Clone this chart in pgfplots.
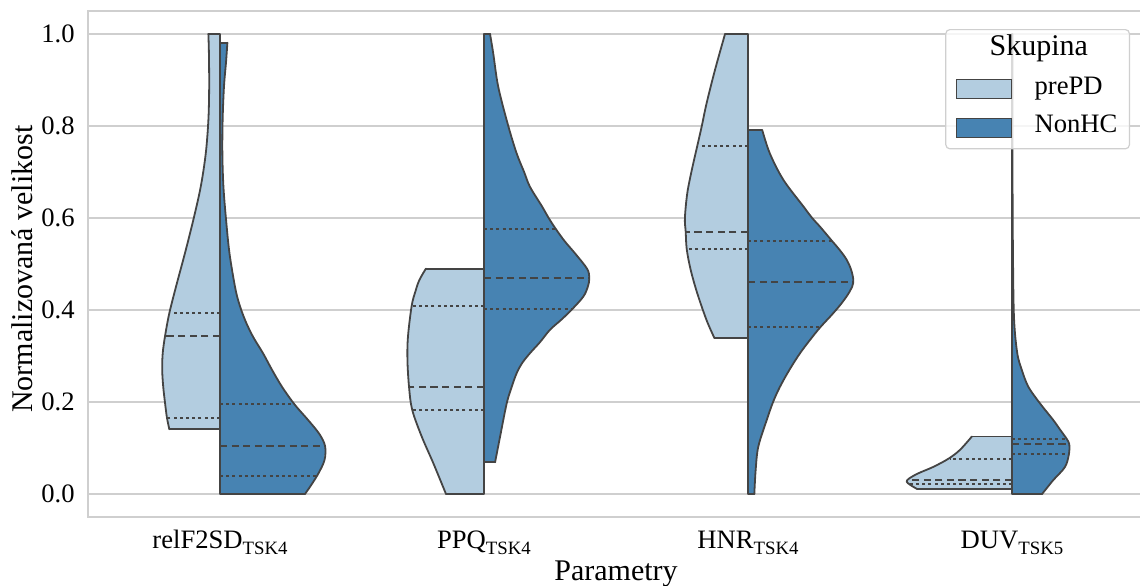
\documentclass[border=0pt]{standalone}
\usepackage{pgfplots}
\usepackage{pgfplotstable}
\pgfplotsset{compat=1.18}
\usepackage{fontspec}
\setmainfont{Liberation Serif}
\definecolor{lightb}{HTML}{B3CDE0}
\definecolor{darkb}{HTML}{4783B2}
\definecolor{edgec}{HTML}{444444}
\definecolor{gridc}{HTML}{CFCFCF}
\newcommand{\sub}[1]{\raisebox{-0.25em}{\fontsize{9.4}{10}\selectfont #1}}
\newcommand{\tickfont}{\fontsize{13.3}{16}\selectfont}
\newcommand{\labfont}{\fontsize{15}{18}\selectfont}

% Half violins: rows = bottom corner, bottom centre, top centre, top corner,
% then the outer edge from top to bottom (y value, half width w in x units).
\pgfplotstableread{
y w
0.141 0.192
0.141 0
1.000 0
1.000 0.044
0.958 0.042
0.885 0.041
0.813 0.044
0.740 0.054
0.668 0.073
0.596 0.101
0.523 0.133
0.450 0.167
0.393 0.192
0.344 0.208
0.306 0.217
0.270 0.219
0.233 0.215
0.197 0.208
0.166 0.201
0.141 0.192
}\relFpre
\pgfplotstableread{
y w
0.000 0.322
0.000 0
0.981 0
0.981 0.028
0.940 0.023
0.885 0.015
0.813 0.010
0.740 0.009
0.668 0.013
0.596 0.023
0.523 0.036
0.450 0.057
0.415 0.072
0.378 0.095
0.342 0.125
0.306 0.163
0.270 0.197
0.233 0.235
0.195 0.282
0.160 0.335
0.130 0.377
0.104 0.398
0.074 0.396
0.045 0.373
0.020 0.346
0.000 0.322
}\relFnon
\pgfplotstableread{
y w
0.000 0.144
0.000 0
0.490 0
0.490 0.220
0.465 0.245
0.440 0.260
0.409 0.274
0.342 0.288
0.291 0.290
0.233 0.284
0.183 0.272
0.125 0.236
0.067 0.192
0.000 0.144
}\PPQpre
\pgfplotstableread{
y w
0.069 0.042
0.069 0
1.000 0
1.000 0.023
0.958 0.035
0.885 0.054
0.800 0.092
0.740 0.124
0.700 0.152
0.668 0.174
0.625 0.220
0.600 0.245
0.577 0.271
0.550 0.305
0.523 0.345
0.490 0.390
0.470 0.399
0.450 0.393
0.429 0.376
0.403 0.336
0.380 0.295
0.357 0.250
0.330 0.212
0.306 0.174
0.285 0.145
0.263 0.124
0.233 0.105
0.197 0.086
0.125 0.061
0.069 0.042
}\PPQnon
\pgfplotstableread{
y w
0.340 0.128
0.340 0
1.000 0
1.000 0.087
0.922 0.125
0.849 0.157
0.800 0.175
0.757 0.192
0.704 0.213
0.654 0.230
0.600 0.239
0.570 0.236
0.532 0.232
0.487 0.217
0.436 0.192
0.378 0.157
0.340 0.128
}\HNRpre
\pgfplotstableread{
y w
0.000 0.024
0.000 0
0.791 0
0.791 0.054
0.740 0.083
0.683 0.134
0.625 0.210
0.600 0.243
0.581 0.273
0.551 0.317
0.530 0.348
0.509 0.374
0.485 0.392
0.460 0.399
0.440 0.385
0.415 0.355
0.390 0.318
0.362 0.273
0.335 0.235
0.306 0.197
0.270 0.157
0.233 0.121
0.200 0.095
0.161 0.071
0.103 0.039
0.052 0.029
0.000 0.024
}\HNRnon
\pgfplotstableread{
y w
0.011 0.360
0.011 0
0.125 0
0.125 0.152
0.096 0.197
0.077 0.240
0.059 0.298
0.045 0.355
0.034 0.389
0.027 0.399
0.020 0.386
0.011 0.360
}\DUVpre
\pgfplotstableread{
y w
0.000 0.114
0.000 0
1.000 0
1.000 0.002
0.700 0.002
0.500 0.004
0.378 0.008
0.306 0.020
0.270 0.037
0.233 0.062
0.197 0.106
0.161 0.156
0.140 0.182
0.120 0.207
0.108 0.217
0.088 0.216
0.059 0.201
0.030 0.156
0.000 0.114
}\DUVnon

% #1 table, #2 x expression, #3 fill colour
\newcommand{\halfv}[3]{%
  \addplot[fill=#3, draw=none] table[x expr=#2, y=y] {#1};
  \addplot[edgec, line width=0.9pt, line join=round, line cap=round,
    skip coords between index={4}{1000}] table[x expr=#2, y=y] {#1};
  \addplot[edgec, line width=0.9pt, line join=round, line cap=round, smooth, tension=0.55,
    skip coords between index={0}{3}] table[x expr=#2, y=y] {#1};
}

\begin{document}
\begin{tikzpicture}
\path[use as bounding box] (-44pt,-34pt) rectangle (526pt,258.5pt);
\begin{axis}[
  at={(0,0)}, anchor=south west,
  scale only axis, width=528pt, height=253pt,
  xmin=-0.5, xmax=3.5, ymin=-0.05, ymax=1.05,
  xtick={0,1,2,3},
  xticklabels={relF2SD\sub{TSK4}, PPQ\sub{TSK4}, HNR\sub{TSK4}, DUV\sub{TSK5}},
  ytick={0,0.2,0.4,0.6,0.8,1.0},
  /pgf/number format/assume math mode=true,
  yticklabel style={/pgf/number format/fixed, /pgf/number format/fixed zerofill, /pgf/number format/precision=1},
  major tick length=0pt,
  ymajorgrids, grid style={gridc, line width=0.8pt},
  axis line style={gridc, line width=0.8pt},
  tick label style={font=\tickfont},
  yticklabel style={anchor=east, inner sep=0pt, xshift=-6.5pt},
  xticklabel style={anchor=base, inner sep=0pt, yshift=-15.5pt},
  xlabel={Parametry},
  ylabel={Normalizovaná velikost},
  label style={font=\labfont},
  xlabel style={at={(axis description cs:0.5,0)}, anchor=base, yshift=-31.5pt},
  ylabel style={at={(axis description cs:-0.053,0.49)}, anchor=base},
  no markers,
  legend cell align=left,
  legend style={at={(axis description cs:1,1)}, anchor=north east, xshift=-7pt, yshift=-9pt,
    font=\tickfont, draw=gridc, line width=0.6pt, rounded corners=2pt, fill=white, fill opacity=0.8, text opacity=1, draw opacity=1,
    inner xsep=5pt, inner ysep=3pt,
    row sep=4pt,
    nodes={inner xsep=1pt, inner ysep=3pt, text height=0.7em, text depth=0.22em},
    /tikz/every odd column/.append style={column sep=10.3pt}},
  qdot/.style={edgec, line width=1pt, dash pattern=on 1.5pt off 1.6pt},
  qmed/.style={edgec, line width=1pt, dash pattern=on 3.6pt off 2.2pt},
]
\addlegendimage{empty legend}
\addlegendentry{\hspace*{-22.5pt}\labfont Skupina}
\addlegendimage{legend image code/.code={\draw[fill=lightb,fill opacity=1,draw=edgec,line width=0.6pt,rounded corners=0pt] (0pt,-4.75pt) rectangle (27.5pt,4.75pt);}}
\addlegendentry{prePD}
\addlegendimage{legend image code/.code={\draw[fill=darkb,fill opacity=1,draw=edgec,line width=0.6pt,rounded corners=0pt] (0pt,-4.75pt) rectangle (27.5pt,4.75pt);}}
\addlegendentry{NonHC}

% ---------- relF2SD ----------
\halfv{\relFpre}{0-\thisrow{w}}{lightb}
\halfv{\relFnon}{0+\thisrow{w}}{darkb}
\addplot[qdot] coordinates {(0,0.393) (-0.192,0.393)};
\addplot[qmed] coordinates {(0,0.344) (-0.208,0.344)};
\addplot[qdot] coordinates {(0,0.166) (-0.201,0.166)};
\addplot[qdot] coordinates {(0,0.195) (0.282,0.195)};
\addplot[qmed] coordinates {(0,0.104) (0.398,0.104)};
\addplot[qdot] coordinates {(0,0.040) (0.368,0.040)};

% ---------- PPQ ----------
\halfv{\PPQpre}{1-\thisrow{w}}{lightb}
\halfv{\PPQnon}{1+\thisrow{w}}{darkb}
\addplot[qdot] coordinates {(1,0.409) (0.726,0.409)};
\addplot[qmed] coordinates {(1,0.233) (0.716,0.233)};
\addplot[qdot] coordinates {(1,0.183) (0.728,0.183)};
\addplot[qdot] coordinates {(1,0.577) (1.271,0.577)};
\addplot[qmed] coordinates {(1,0.470) (1.399,0.470)};
\addplot[qdot] coordinates {(1,0.403) (1.336,0.403)};

% ---------- HNR ----------
\halfv{\HNRpre}{2-\thisrow{w}}{lightb}
\halfv{\HNRnon}{2+\thisrow{w}}{darkb}
\addplot[qdot] coordinates {(2,0.757) (1.808,0.757)};
\addplot[qmed] coordinates {(2,0.570) (1.764,0.570)};
\addplot[qdot] coordinates {(2,0.532) (1.768,0.532)};
\addplot[qdot] coordinates {(2,0.551) (2.317,0.551)};
\addplot[qmed] coordinates {(2,0.460) (2.399,0.460)};
\addplot[qdot] coordinates {(2,0.362) (2.273,0.362)};

% ---------- DUV ----------
\halfv{\DUVpre}{3-\thisrow{w}}{lightb}
\halfv{\DUVnon}{3+\thisrow{w}}{darkb}
\addplot[qdot] coordinates {(3,0.077) (2.765,0.077)};
\addplot[qmed] coordinates {(3,0.030) (2.605,0.030)};
\addplot[qdot] coordinates {(3,0.021) (2.612,0.021)};
\addplot[qdot] coordinates {(3,0.120) (3.207,0.120)};
\addplot[qmed] coordinates {(3,0.108) (3.217,0.108)};
\addplot[qdot] coordinates {(3,0.088) (3.216,0.088)};
\end{axis}
\end{tikzpicture}
\end{document}
